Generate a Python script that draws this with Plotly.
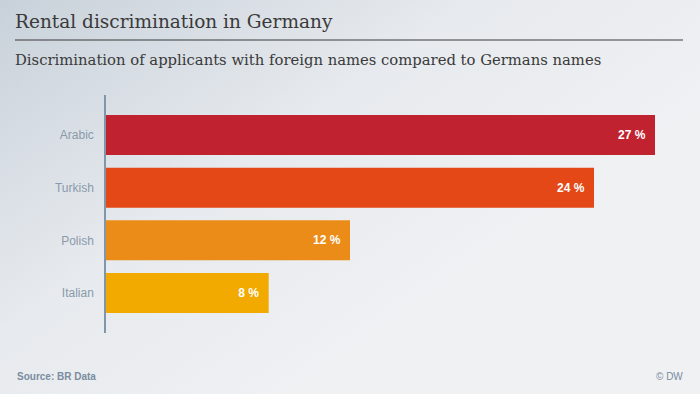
import base64
import plotly.graph_objects as go

categories = ["Arabic", "Turkish", "Polish", "Italian"]
values = [27, 24, 12, 8]
colors = ["#c0222f", "#e34816", "#ea8c17", "#f2a900"]
labels = [f"{v} %" for v in values]

svg = """<svg xmlns='http://www.w3.org/2000/svg' width='700' height='394'>
<defs><linearGradient id='g' x1='0' y1='0' x2='0.75' y2='0.6'>
<stop offset='0' stop-color='#c8d1da'/><stop offset='0.55' stop-color='#e7eaee'/>
<stop offset='1' stop-color='#eff1f3'/></linearGradient></defs>
<rect width='700' height='394' fill='url(#g)'/></svg>"""
bg = "data:image/svg+xml;base64," + base64.b64encode(svg.encode()).decode()

fig = go.Figure(go.Bar(
    x=values, y=categories, orientation="h",
    marker=dict(color=colors, line=dict(width=0)),
    text=[t + "\u00a0\u00a0" for t in labels], textposition="inside", insidetextanchor="end",
    textfont=dict(family="Liberation Sans, Arial", size=12, color="white", weight="bold"),
    width=0.76, cliponaxis=False, hoverinfo="skip",
))

fig.update_layout(
    width=700, height=394,
    margin=dict(l=106, r=45, t=95, b=61),
    paper_bgcolor="#eef0f2", plot_bgcolor="rgba(0,0,0,0)",
    showlegend=False,
    images=[dict(source=bg, xref="paper", yref="paper", x=-106/549, y=1 + 95/238,
                 sizex=700/549, sizey=394/238, xanchor="left", yanchor="top",
                 sizing="stretch", layer="below")],
    xaxis=dict(range=[0, 27], visible=False, fixedrange=True),
    yaxis=dict(categoryorder="array", categoryarray=categories, autorange=False,
               range=[3.76, -0.76], showline=True, linecolor="#7f96ab", linewidth=1.5,
               showgrid=False, zeroline=False, ticks="", ticklabelstandoff=8, fixedrange=True,
               tickfont=dict(family="Liberation Sans, Arial", size=12, color="#8a9aab")),
    font=dict(family="Liberation Sans, Arial"),
    annotations=[
        dict(text="Rental discrimination in Germany", xref="paper", yref="paper",
             x=-106/549, y=1 + (95-9)/238, xshift=13, xanchor="left", yanchor="top",
             showarrow=False, font=dict(family="DejaVu Serif, Liberation Serif", size=18.5, color="#3a3a3a")),
        dict(text="Discrimination of applicants with foreign names compared to Germans names",
             xref="paper", yref="paper", x=-106/549, y=1 + (95-49)/238, xshift=13,
             xanchor="left", yanchor="top", showarrow=False,
             font=dict(family="DejaVu Serif, Liberation Serif", size=14.8, color="#3a3a3a")),
        dict(text="<b>Source: BR Data</b>", xref="paper", yref="paper", x=-106/549,
             y=-(376-333)/238, xshift=15, xanchor="left", yanchor="middle", showarrow=False,
             font=dict(size=10, color="#7a8ca0")),
        dict(text="© DW", xref="paper", yref="paper", x=1 + 45/549, xshift=-15,
             y=-(376-333)/238, xanchor="right", yanchor="middle", showarrow=False,
             font=dict(size=10, color="#7a8ca0")),
    ],
    shapes=[dict(type="line", xref="paper", yref="paper", x0=-(106-15)/549, x1=(683-106)/549,
                 y0=1 + (95-40)/238, y1=1 + (95-40)/238, line=dict(color="#3a3a3a", width=1))],
)

fig.write_html("out.html", config={"displayModeBar": False})
with open("out.html", encoding="utf-8") as f:
    html = f.read()
html = html.replace("<head>", "<head><style>html,body{margin:0;padding:0;overflow:hidden;}</style>", 1)
with open("out.html", "w", encoding="utf-8") as f:
    f.write(html)
